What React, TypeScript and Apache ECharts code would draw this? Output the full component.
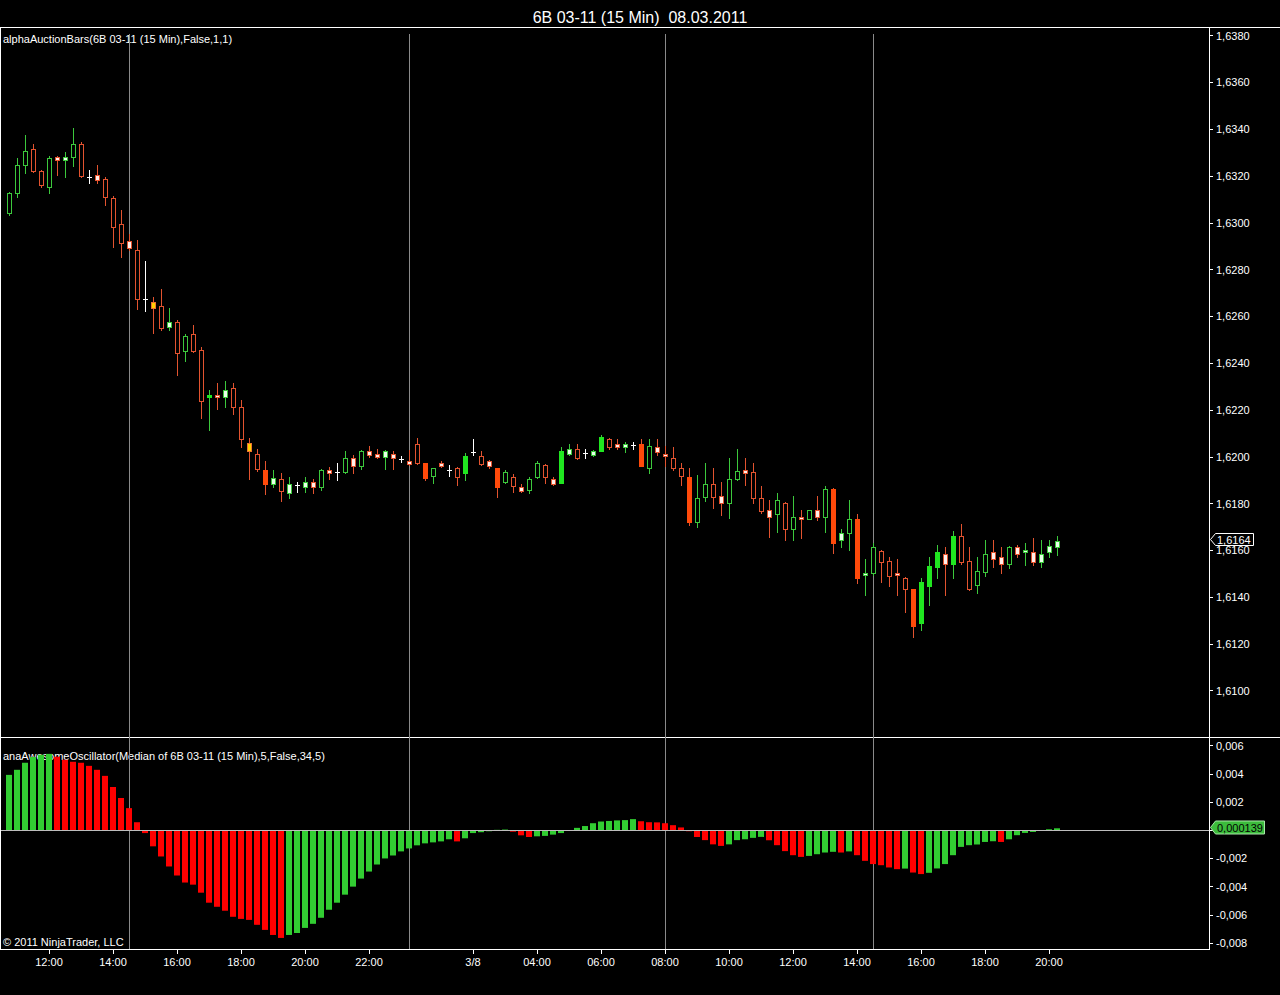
import React, { useEffect, useRef } from 'react';
import * as echarts from 'echarts';

const FONT = '"Liberation Sans", Arial, sans-serif';

// ---- data (15-min bars, 6B 03-11) ----
const open = [1.63042,1.63127,1.63247,1.63315,1.63221,1.63153,1.63281,1.63268,1.63281,1.63337,
1.63196,1.63204,1.63187,1.63106,1.62995,1.62922,1.62884,1.62674,1.62661,1.62644,
1.62554,1.62576,1.62452,1.62525,1.62456,1.62255,1.62264,1.62255,1.62294,1.62212,
1.62059,1.62012,1.61943,1.61883,1.61905,1.61845,1.61879,1.61870,1.61892,1.61870,
1.61943,1.61935,1.61935,1.61994,1.61960,1.62024,1.62012,1.61999,1.62012,1.61990,
1.61982,1.62054,1.61973,1.61918,1.61973,1.61943,1.61952,1.61930,1.62020,1.62003,
1.61982,1.61952,1.61892,1.61913,1.61870,1.61858,1.61913,1.61965,1.61905,1.61888,
1.62012,1.62033,1.62016,1.62007,1.62024,1.62076,1.62054,1.62041,1.62050,1.62054,
1.61952,1.62041,1.62012,1.61994,1.61952,1.61913,1.61721,1.61828,1.61883,1.61832,
1.61802,1.61905,1.61943,1.61935,1.61823,1.61772,1.61755,1.61802,1.61691,1.61742,
1.61734,1.61772,1.61742,1.61862,1.61644,1.61674,1.61734,1.61494,1.61503,1.61597,
1.61554,1.61503,1.61481,1.61434,1.61289,1.61447,1.61528,1.61584,1.61541,1.61661,
1.61554,1.61452,1.61507,1.61593,1.61571,1.61541,1.61614,1.61593,1.61593,1.61550,
1.61593,1.61614];

const close = [1.63127,1.63247,1.63307,1.63221,1.63162,1.63277,1.63268,1.63281,1.63337,1.63200,
1.63196,1.63183,1.63110,1.62982,1.62914,1.62892,1.62674,1.62674,1.62636,1.62550,
1.62576,1.62443,1.62516,1.62452,1.62238,1.62264,1.62255,1.62285,1.62212,1.62076,
1.62024,1.61947,1.61883,1.61909,1.61853,1.61883,1.61879,1.61892,1.61870,1.61943,
1.61930,1.61935,1.61994,1.61960,1.62024,1.62007,1.61999,1.62024,1.61994,1.61990,
1.61969,1.61973,1.61909,1.61952,1.61960,1.61943,1.61913,1.62003,1.62020,1.61969,
1.61960,1.61870,1.61935,1.61875,1.61853,1.61905,1.61973,1.61913,1.61883,1.62024,
1.62033,1.61994,1.62016,1.62024,1.62084,1.62041,1.62041,1.62054,1.62050,1.61960,
1.62046,1.62020,1.62003,1.61952,1.61918,1.61721,1.61823,1.61883,1.61828,1.61802,
1.61905,1.61939,1.61930,1.61823,1.61768,1.61742,1.61815,1.61691,1.61742,1.61734,
1.61772,1.61742,1.61862,1.61631,1.61674,1.61734,1.61481,1.61503,1.61614,1.61550,
1.61490,1.61494,1.61434,1.61276,1.61464,1.61533,1.61593,1.61541,1.61661,1.61550,
1.61434,1.61511,1.61584,1.61563,1.61541,1.61614,1.61584,1.61601,1.61550,1.61584,
1.61618,1.61640];

const low = [1.63033,1.63110,1.63213,1.63217,1.63153,1.63127,1.63204,1.63196,1.63243,1.63196,
1.63170,1.63170,1.63076,1.62896,1.62854,1.62884,1.62631,1.62623,1.62529,1.62542,
1.62542,1.62349,1.62409,1.62448,1.62165,1.62114,1.62204,1.62212,1.62183,1.62041,
1.61905,1.61939,1.61841,1.61870,1.61811,1.61823,1.61849,1.61849,1.61845,1.61858,
1.61905,1.61900,1.61930,1.61930,1.61947,1.61999,1.61994,1.61947,1.61947,1.61977,
1.61965,1.61969,1.61900,1.61888,1.61956,1.61918,1.61879,1.61900,1.62007,1.61965,
1.61952,1.61828,1.61888,1.61849,1.61849,1.61845,1.61909,1.61888,1.61879,1.61888,
1.62007,1.61990,1.61994,1.62003,1.62024,1.62033,1.62033,1.62020,1.62033,1.61960,
1.61930,1.62007,1.61960,1.61943,1.61879,1.61708,1.61699,1.61811,1.61781,1.61751,
1.61738,1.61900,1.61879,1.61802,1.61759,1.61657,1.61678,1.61644,1.61644,1.61652,
1.61734,1.61729,1.61678,1.61588,1.61614,1.61601,1.61460,1.61409,1.61494,1.61464,
1.61447,1.61409,1.61336,1.61229,1.61259,1.61366,1.61481,1.61409,1.61481,1.61541,
1.61430,1.61417,1.61490,1.61528,1.61503,1.61524,1.61571,1.61537,1.61537,1.61528,
1.61571,1.61580];

const high = [1.63130,1.63277,1.63375,1.63337,1.63226,1.63286,1.63285,1.63303,1.63405,1.63345,
1.63226,1.63247,1.63196,1.63115,1.63055,1.62952,1.62926,1.62837,1.62683,1.62717,
1.62636,1.62584,1.62525,1.62563,1.62469,1.62285,1.62315,1.62324,1.62315,1.62242,
1.62080,1.62033,1.61982,1.61943,1.61930,1.61913,1.61892,1.61913,1.61905,1.61947,
1.61956,1.61973,1.62024,1.62007,1.62029,1.62046,1.62033,1.62029,1.62024,1.62003,
1.62029,1.62080,1.61973,1.61952,1.61982,1.61965,1.61956,1.62016,1.62076,1.62024,
1.61986,1.61952,1.61943,1.61926,1.61883,1.61913,1.61982,1.61969,1.61913,1.62041,
1.62054,1.62054,1.62033,1.62029,1.62093,1.62080,1.62076,1.62063,1.62063,1.62076,
1.62076,1.62076,1.62046,1.62041,1.61973,1.61952,1.61922,1.61973,1.61952,1.61892,
1.61994,1.62033,1.61994,1.61973,1.61875,1.61815,1.61845,1.61806,1.61832,1.61772,
1.61772,1.61832,1.61875,1.61866,1.61691,1.61815,1.61755,1.61563,1.61631,1.61601,
1.61571,1.61563,1.61486,1.61434,1.61481,1.61571,1.61623,1.61614,1.61682,1.61712,
1.61614,1.61571,1.61644,1.61644,1.61614,1.61618,1.61623,1.61631,1.61652,1.61644,
1.61644,1.61661];

// bar type: G/R hollow, g/r light-filled, Y yellow, F solid red, S solid green, D doji
const barKinds = ('GGGRRGrgGR' + 'DrRRRrRDYR' + 'gRGRRSrgRR' + 'YRFgRgDgrG' + 'rDGrGrrgrD' +
  'rRFGrDRSDR' + 'rFGRrGGRrS' + 'gRDgSRrgDF' + 'GrrRRFGGRr' + 'GGrRRrGRGr' +
  'GrGFgGFgGR' + 'RrRFSSSrSR' + 'RGGrrGrgrg' + 'gg').split('');

const oscillator = [0.00393,0.00429,0.00479,0.00520,0.00536,0.00542,0.00522,0.00500,0.00486,0.00479,
0.00457,0.00429,0.00386,0.00307,0.00229,0.00157,0.00057,-0.00020,-0.00114,-0.00186,
-0.00257,-0.00321,-0.00371,-0.00386,-0.00443,-0.00514,-0.00543,-0.00571,-0.00614,-0.00629,
-0.00636,-0.00671,-0.00707,-0.00743,-0.00764,-0.00743,-0.00729,-0.00693,-0.00664,-0.00621,
-0.00564,-0.00514,-0.00457,-0.00400,-0.00343,-0.00293,-0.00243,-0.00200,-0.00179,-0.00150,
-0.00129,-0.00107,-0.00093,-0.00086,-0.00079,-0.00064,-0.00079,-0.00057,-0.00020,-0.00014,
-0.00007,0.00003,0.00005,-0.00010,-0.00036,-0.00048,-0.00043,-0.00040,-0.00031,-0.00020,
-0.00005,0.00017,0.00030,0.00050,0.00062,0.00066,0.00070,0.00072,0.00079,0.00064,
0.00057,0.00056,0.00050,0.00036,0.00020,-0.00007,-0.00048,-0.00070,-0.00100,-0.00111,
-0.00100,-0.00070,-0.00064,-0.00054,-0.00047,-0.00071,-0.00106,-0.00148,-0.00177,-0.00189,
-0.00182,-0.00170,-0.00158,-0.00153,-0.00158,-0.00150,-0.00177,-0.00217,-0.00240,-0.00248,
-0.00264,-0.00276,-0.00272,-0.00300,-0.00311,-0.00302,-0.00271,-0.00240,-0.00177,-0.00118,
-0.00106,-0.00101,-0.00083,-0.00078,-0.00083,-0.00064,-0.00035,-0.00019,-0.00012,-0.00003,
0.00007,0.000139];

const tickIndex = [5, 13, 21, 29, 37, 45, 58, 66, 74, 82, 90, 98, 106, 114, 122, 130];
const tickLabels = ['12:00', '14:00', '16:00', '18:00', '20:00', '22:00', '3/8', '04:00',
  '06:00', '08:00', '10:00', '12:00', '14:00', '16:00', '18:00', '20:00'];
const sessionBreaks = [15, 50, 82, 108];

const titleText = '6B 03-11 (15 Min)  08.03.2011';
const priceLabel = 'alphaAuctionBars(6B 03-11 (15 Min),False,1,1)';
const oscLabel = 'anaAwesomeOscillator(Median of 6B 03-11 (15 Min),5,False,34,5)';
const copyright = '\u00a9 2011 NinjaTrader, LLC';

// ---- styles ----
const GREEN = '#3cc83c';
const RED = '#e2532f';
const KIND_STYLE: Record<string, { edge: string; fill: string; wick: string }> = {
  G: { edge: GREEN, fill: '#000000', wick: GREEN },
  R: { edge: RED, fill: '#000000', wick: RED },
  g: { edge: GREEN, fill: '#eaffea', wick: GREEN },
  r: { edge: RED, fill: '#fff0ea', wick: RED },
  Y: { edge: '#ea7430', fill: '#ffd000', wick: RED },
  F: { edge: '#ff4a0a', fill: '#ff4a0a', wick: RED },
  S: { edge: '#20e620', fill: '#20e620', wick: GREEN },
  D: { edge: '#ffffff', fill: '#ffffff', wick: '#ffffff' },
};

const commaFmt = (v: number, d: number) => v.toFixed(d).replace('.', ',');

export default function App() {
  const ref = useRef<HTMLDivElement>(null);

  useEffect(() => {
    document.body.style.margin = '0';
    document.body.style.background = '#000';
    const chart = echarts.init(ref.current!, null, { renderer: 'svg' });
    const n = close.length;

    const ln = (x1: number, y1: number, x2: number, y2: number) => ({
      type: 'line', silent: true, shape: { x1, y1, x2, y2 }, style: { stroke: '#fff', lineWidth: 1 },
    });
    const txt = (x: number, y: number, text: string) => ({
      type: 'text', x, y, z: 0, silent: true,
      style: { text, fill: '#fff', fontSize: 11, fontFamily: FONT, verticalAlign: 'middle' },
    });

    const baseGraphics: any[] = [
      ln(0, 27.5, 1280, 27.5),
      ln(0, 737.5, 1280, 737.5),
      ln(0, 949.5, 1210, 949.5),
      ln(1209.5, 27, 1209.5, 950),
      ln(0.5, 27, 0.5, 950),
      txt(3, 39, priceLabel),
      txt(3, 756, oscLabel),
      txt(3, 942, copyright),
    ];

    const yAxisCommon = {
      type: 'value', position: 'right',
      axisLine: { show: false, onZero: false }, splitLine: { show: false },
      axisTick: { show: true, length: 4, lineStyle: { color: '#fff' } },
    };

    const option: any = {
      animation: false,
      backgroundColor: '#000',
      title: {
        text: titleText, left: 'center', top: 4,
        textStyle: { color: '#fff', fontSize: 16, fontWeight: 'normal', fontFamily: FONT },
      },
      grid: [
        { left: 1, top: 35.7, width: 1208, height: 701.8, outerBoundsMode: 'none', containLabel: false },
        { left: 1, top: 745.7, width: 1208, height: 197.3, outerBoundsMode: 'none', containLabel: false },
        { left: 1, top: 34, width: 1208, height: 915, outerBoundsMode: 'none', containLabel: false },
      ],
      xAxis: [
        { gridIndex: 0, type: 'value', min: -1, max: 150, show: false, axisLine: { onZero: false } },
        {
          gridIndex: 1, type: 'value', min: -1, max: 150, position: 'bottom', offset: 6,
          axisLine: { show: false, onZero: false }, splitLine: { show: false },
          axisTick: { show: true, customValues: tickIndex, length: 5, lineStyle: { color: '#fff' } },
          axisLabel: {
            customValues: tickIndex, color: '#fff', fontSize: 11, fontFamily: FONT, margin: 7, hideOverlap: false,
            formatter: (v: number) => tickLabels[tickIndex.indexOf(Math.round(v))] ?? '',
          },
        },
        { gridIndex: 2, type: 'value', min: -1, max: 150, show: false, axisLine: { onZero: false } },
      ],
      yAxis: [
        {
          ...yAxisCommon, gridIndex: 0, min: 1.608, max: 1.638, interval: 0.002,
          axisLabel: {
            color: '#fff', fontSize: 11, fontFamily: FONT, margin: 7, showMinLabel: false,
            formatter: (v: number) => commaFmt(v, 4),
          },
        },
        {
          ...yAxisCommon, gridIndex: 1, min: -0.008, max: 0.006, interval: 0.002,
          axisLabel: {
            color: '#fff', fontSize: 11, fontFamily: FONT, margin: 7,
            formatter: (v: number) => (Math.abs(v) < 1e-9 ? '' : commaFmt(v, 3)),
          },
        },
        { gridIndex: 2, type: 'value', min: 0, max: 1, show: false, axisLine: { onZero: false } },
      ],
      graphic: baseGraphics,
      series: [
        {
          type: 'custom', name: 'sessions', xAxisIndex: 2, yAxisIndex: 2, z: 1, clip: false, silent: true,
          data: sessionBreaks.map((i) => [i, 0]),
          encode: { x: 0, y: 1 },
          renderItem: (params: any, api: any) => {
            const x = Math.round(api.coord([api.value(0), 0])[0]);
            const cs = params.coordSys;
            return {
              type: 'rect',
              shape: { x, y: Math.round(cs.y), width: 1, height: Math.round(cs.height) },
              style: { fill: '#8a8a8a' },
            };
          },
        },
        {
          type: 'custom', name: 'alphaAuctionBars', xAxisIndex: 0, yAxisIndex: 0, z: 3, clip: false, silent: true,
          data: close.map((c, i) => [i, open[i], c, low[i], high[i]]),
          encode: { x: 0, y: [1, 2, 3, 4] },
          renderItem: (params: any, api: any) => {
            const idx = api.value(0);
            const pO = api.coord([idx, api.value(1)]);
            const x = Math.round(pO[0]);
            const yO = Math.round(pO[1]);
            const yC = Math.round(api.coord([idx, api.value(2)])[1]);
            const yL = Math.round(api.coord([idx, api.value(3)])[1]);
            const yH = Math.round(api.coord([idx, api.value(4)])[1]);
            const kind = barKinds[params.dataIndex] || 'G';
            const st = KIND_STYLE[kind];
            const children: any[] = [
              { type: 'rect', shape: { x, y: yH, width: 1, height: Math.max(yL - yH + 1, 1) }, style: { fill: st.wick } },
            ];
            if (kind === 'D') {
              children.push({ type: 'rect', shape: { x: x - 2, y: yO, width: 5, height: 1 }, style: { fill: st.edge } });
            } else {
              const top = Math.min(yO, yC);
              const bot = Math.max(yO, yC);
              const h = Math.max(bot - top + 1, 2);
              children.push({ type: 'rect', shape: { x: x - 2, y: top, width: 5, height: h }, style: { fill: st.edge } });
              if (h > 2) {
                children.push({ type: 'rect', shape: { x: x - 1, y: top + 1, width: 3, height: h - 2 }, style: { fill: st.fill } });
              }
            }
            return { type: 'group', children };
          },
        },
        {
          type: 'bar', name: 'AO', xAxisIndex: 1, yAxisIndex: 1, z: 2, barWidth: 6, silent: true,
          data: oscillator.map((v, i) => [i, v]),
          itemStyle: {
            color: (p: any) => {
              const i = p.dataIndex;
              return i === 0 || oscillator[i] >= oscillator[i - 1] ? '#32cd32' : '#ff0000';
            },
          },
          markLine: {
            silent: true, symbol: 'none', animation: false, z: 5,
            label: { show: false },
            lineStyle: { color: '#bdbdbd', type: 'solid', width: 1 },
            data: [{ yAxis: 0 }],
          },
        },
      ],
    };

    chart.setOption(option);

    const lastClose = close[n - 1];
    const lastOsc = oscillator[oscillator.length - 1];
    const yP = Math.floor(chart.convertToPixel({ yAxisIndex: 0 } as any, lastClose) as any) - 0.5;
    const yA = Math.floor(chart.convertToPixel({ yAxisIndex: 1 } as any, lastOsc) as any) - 0.5;

    const markers: any[] = [
      {
        type: 'polygon', z: 10, silent: true,
        shape: { points: [[1210.5, yP], [1215.5, yP - 6], [1253.5, yP - 6], [1253.5, yP + 6], [1215.5, yP + 6]] },
        style: { fill: '#000', stroke: '#fff', lineWidth: 1 },
      },
      {
        type: 'text', x: 1217, y: yP, z: 11, silent: true,
        style: { text: commaFmt(lastClose, 4), fill: '#fff', fontSize: 11, fontFamily: FONT, verticalAlign: 'middle' },
      },
      {
        type: 'polygon', z: 10, silent: true,
        shape: { points: [[1210.5, yA], [1215.5, yA - 6.5], [1264.5, yA - 6.5], [1264.5, yA + 6.5], [1215.5, yA + 6.5]] },
        style: { fill: '#3cbc3c', stroke: '#a8e8a8', lineWidth: 1 },
      },
      {
        type: 'text', x: 1217, y: yA, z: 11, silent: true,
        style: { text: commaFmt(lastOsc, 6), fill: '#000', fontSize: 11, fontFamily: FONT, verticalAlign: 'middle' },
      },
    ];

    chart.setOption({ graphic: [...baseGraphics, ...markers] });

    return () => chart.dispose();
  }, []);

  return (
    <div
      ref={ref}
      style={{ position: 'fixed', left: 0, top: 0, width: 1280, height: 995, background: '#000' }}
    />
  );
}
